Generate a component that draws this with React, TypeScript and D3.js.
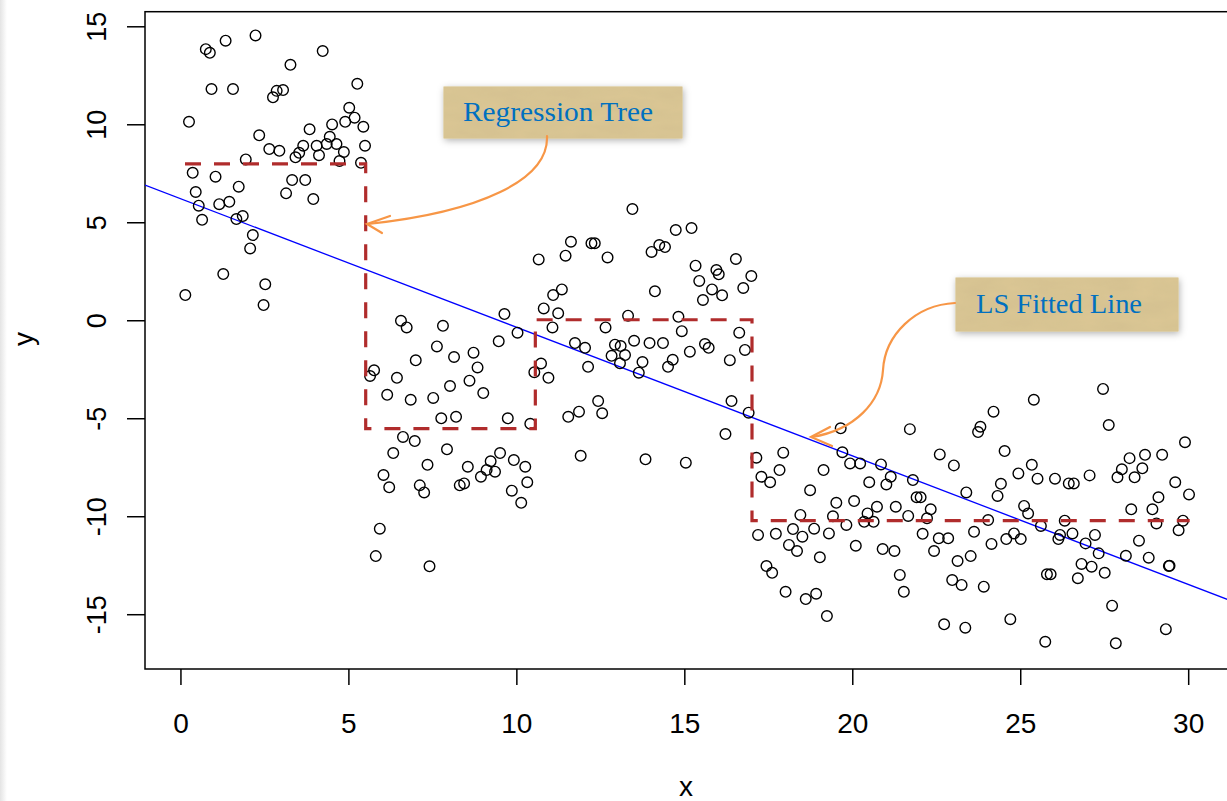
import React from 'react';
import * as d3 from 'd3';

// axis ticks
const xTicks = [0, 5, 10, 15, 20, 25, 30];
const yTicks = [-15, -10, -5, 0, 5, 10, 15];

// observations [x, y], grouped by the leaf of the tree they fall in
const leaf1: [number, number][] = [
  [0.24, 10.15], [0.13, 1.31], [0.35, 7.55], [0.44, 6.57], [0.53, 5.87], [0.63, 5.15], [0.74, 13.86],
  [0.86, 13.67], [0.91, 11.82], [1.03, 7.35], [1.14, 5.95], [1.26, 2.38], [1.33, 14.29], [1.44, 6.07],
  [1.55, 11.82], [1.72, 6.84], [1.65, 5.19], [1.84, 5.34], [1.93, 8.23], [2.14, 4.37], [2.06, 3.69],
  [2.22, 14.56], [2.33, 9.46], [2.51, 1.86], [2.46, 0.8], [2.63, 8.76], [2.93, 8.67], [2.74, 11.4],
  [2.85, 11.73], [3.04, 11.77], [3.13, 6.5], [3.26, 13.06], [3.31, 7.18], [3.41, 8.34], [3.52, 8.57],
  [3.64, 8.93], [3.7, 7.18], [3.83, 9.77], [3.94, 6.21], [4.04, 8.93], [4.11, 8.45], [4.22, 13.76],
  [4.34, 9.02], [4.43, 9.39], [4.5, 10.02], [4.63, 9.02], [4.85, 8.61], [4.72, 8.15], [4.89, 10.15],
  [5.01, 10.87], [5.17, 10.36], [5.25, 12.09], [5.43, 9.9], [5.48, 8.93], [5.36, 8.06],
];
const leaf2: [number, number][] = [
  [6.55, 0.0], [6.72, -0.34], [7.8, -0.26], [9.63, 0.34], [10.02, -0.61], [9.46, -1.05], [7.62, -1.31],
  [8.13, -1.85], [8.71, -1.63], [8.83, -2.38], [6.99, -2.02], [5.75, -2.53], [5.63, -2.82], [6.43, -2.91],
  [8.01, -3.33], [8.59, -3.06], [9.0, -3.69], [6.14, -3.78], [6.84, -4.03], [7.51, -3.94], [7.75, -4.98],
  [8.19, -4.9], [9.73, -4.98], [10.4, -5.26], [6.61, -5.93], [6.96, -6.14], [6.32, -6.75], [7.92, -6.56],
  [7.34, -7.35], [8.54, -7.45], [9.5, -6.75], [9.22, -7.17], [9.1, -7.62], [9.35, -7.7], [8.93, -7.96],
  [9.91, -7.11], [10.25, -7.45], [10.31, -8.24], [9.85, -8.67], [10.13, -9.29], [6.03, -7.87], [6.2, -8.5],
  [7.11, -8.4], [7.24, -8.76], [8.3, -8.4], [8.43, -8.3], [5.92, -10.61], [5.8, -12.01], [7.4, -12.53],
  [10.52, -2.63],
];
const leaf3: [number, number][] = [
  [13.44, 5.7], [14.73, 4.63], [15.2, 4.73], [11.61, 4.03], [12.22, 3.95], [12.32, 3.95], [11.45, 3.32],
  [10.65, 3.13], [12.7, 3.23], [14.01, 3.51], [14.24, 3.86], [14.41, 3.76], [15.32, 2.81], [16.52, 3.15],
  [15.94, 2.59], [16.01, 2.37], [16.98, 2.28], [15.43, 2.03], [15.81, 1.6], [16.11, 1.3], [16.74, 1.67],
  [15.54, 1.06], [14.11, 1.5], [11.34, 1.6], [11.08, 1.31], [10.8, 0.63], [11.23, 0.38], [13.31, 0.26],
  [14.81, 0.2], [11.06, -0.34], [12.64, -0.34], [14.91, -0.53], [16.62, -0.61], [11.73, -1.14],
  [12.03, -1.38], [12.92, -1.22], [13.09, -1.29], [13.49, -1.02], [13.95, -1.14], [14.35, -1.14],
  [15.6, -1.19], [15.71, -1.38], [15.15, -1.58], [16.79, -1.49], [12.82, -1.79], [13.22, -1.75],
  [13.07, -2.17], [13.74, -2.11], [14.64, -1.99], [14.5, -2.35], [16.34, -2.01], [10.72, -2.18],
  [10.94, -2.91], [12.12, -2.35], [13.63, -2.65], [12.42, -4.1], [11.85, -4.64], [11.53, -4.9],
  [12.54, -4.72], [16.39, -4.1], [16.9, -4.69], [16.21, -5.78], [11.9, -6.89], [13.83, -7.07], [15.03, -7.24],
];
const leaf4: [number, number][] = [
  [17.13, -6.99], [17.93, -6.73], [17.82, -7.62], [19.64, -5.49], [21.7, -5.53], [19.69, -6.71],
  [19.92, -7.28], [20.22, -7.28], [20.84, -7.33], [17.28, -7.96], [17.54, -8.24], [19.13, -7.62],
  [20.49, -8.24], [21.0, -8.35], [21.13, -7.96], [21.79, -8.13], [22.59, -6.82], [23.01, -7.38],
  [18.73, -8.65], [19.51, -9.29], [20.04, -9.2], [23.38, -8.76], [21.9, -9.01], [22.02, -9.01],
  [20.72, -9.49], [20.44, -9.83], [21.28, -9.49], [22.32, -9.62], [18.44, -9.91], [19.41, -9.98],
  [21.65, -9.96], [22.21, -10.08], [20.34, -10.26], [20.62, -10.26], [19.81, -10.42], [18.85, -10.61],
  [18.22, -10.63], [18.5, -11.02], [17.71, -10.87], [17.18, -10.93], [19.29, -10.85], [22.08, -10.87],
  [22.56, -11.1], [22.84, -11.1], [23.61, -10.77], [18.1, -11.44], [18.34, -11.75], [20.09, -11.48],
  [20.89, -11.65], [21.24, -11.75], [22.42, -11.75], [19.02, -12.07], [17.43, -12.52], [17.6, -12.86],
  [21.4, -12.97], [23.12, -12.26], [23.51, -12.01], [22.96, -13.23], [23.24, -13.48], [18.0, -13.83],
  [18.6, -14.2], [18.91, -13.93], [21.52, -13.83], [19.23, -15.07], [22.72, -15.49], [23.35, -15.66],
  [23.9, -13.57], [27.45, -3.48], [25.39, -4.03], [24.19, -4.64], [23.8, -5.41], [23.73, -5.68],
  [27.62, -5.32], [29.89, -6.2], [24.52, -6.65], [28.24, -7.01], [28.7, -6.84], [29.21, -6.84],
  [25.33, -7.35], [24.93, -7.79], [25.5, -8.06], [26.02, -8.06], [26.43, -8.3], [26.58, -8.3],
  [27.05, -7.89], [28.01, -7.58], [27.88, -7.99], [28.39, -7.99], [28.62, -7.53], [24.41, -8.32],
  [24.31, -8.94], [29.6, -8.24], [30.01, -8.86], [29.1, -9.01], [28.29, -9.62], [28.92, -9.62],
  [25.1, -9.45], [25.22, -9.83], [24.03, -10.17], [26.31, -10.2], [25.6, -10.47], [29.04, -10.34],
  [29.83, -10.2], [29.7, -10.69], [24.8, -10.85], [24.57, -11.14], [25.0, -11.14], [24.13, -11.39],
  [26.17, -10.93], [26.12, -11.14], [26.54, -10.85], [27.21, -10.93], [26.93, -11.36], [28.52, -11.22],
  [27.32, -11.87], [28.13, -11.99], [28.81, -12.09], [26.81, -12.41], [27.11, -12.55], [27.5, -12.86],
  [29.41, -12.52], [29.43, -12.5], [25.78, -12.94], [25.89, -12.94], [26.7, -13.14], [27.72, -14.54],
  [24.69, -15.23], [25.73, -16.38], [27.83, -16.46], [29.32, -15.74],
];

// regression tree: split points and leaf means
const treeStart = 0.12;
const treeEnd = 30.03;
const treeSplits = [5.5, 10.55, 17.0];
const leafMeans = [8.0, -5.5, 0.05, -10.2];

// least squares line
const lsIntercept = 6.22;
const lsSlope = -0.656;

const W = 1227;
const H = 801;

export default function App() {
  const x = d3.scaleLinear().domain([-1.07, 31.2]).range([145, 1229]);
  const y = d3.scaleLinear().domain([-17.77, 15.77]).range([669, 11.7]);

  const points = [...leaf1, ...leaf2, ...leaf3, ...leaf4];

  const stepPts: [number, number][] = [[treeStart, leafMeans[0]]];
  treeSplits.forEach((s, i) => stepPts.push([s, leafMeans[i + 1]]));
  stepPts.push([treeEnd, leafMeans[leafMeans.length - 1]]);
  const tree = d3.line<[number, number]>()
    .x(d => x(d[0]))
    .y(d => y(d[1]))
    .curve(d3.curveStepAfter)(stepPts);

  const [x0, x1] = x.domain();
  const axisFont = '"Liberation Sans", Arial, sans-serif';

  return (
    <svg width={W} height={H} style={{ position: 'absolute', left: 0, top: 0, background: '#fff' }}>
      <defs>
        <clipPath id="plotArea">
          <rect x={145} y={11.7} width={1084} height={657.3} />
        </clipPath>
        <linearGradient id="edge" x1="0" x2="1" y1="0" y2="0">
          <stop offset="0" stopColor="#e4e4e4" />
          <stop offset="1" stopColor="#fff" />
        </linearGradient>
        <filter id="shadow" x="-10%" y="-20%" width="125%" height="150%">
          <feDropShadow dx="1" dy="2" stdDeviation="3.5" floodColor="#000" floodOpacity="0.3" />
        </filter>
        <filter id="paper">
          <feTurbulence type="fractalNoise" baseFrequency="0.03 0.08" numOctaves="3" seed="4" result="noise" />
          <feColorMatrix in="noise" type="matrix"
            values="0 0 0 0 0.55  0 0 0 0 0.45  0 0 0 0 0.25  0 0 0 0.35 0" result="tint" />
          <feComposite in="tint" in2="SourceGraphic" operator="in" result="tex" />
          <feMerge>
            <feMergeNode in="SourceGraphic" />
            <feMergeNode in="tex" />
          </feMerge>
        </filter>
      </defs>

      <rect x={0} y={0} width={7} height={H} fill="url(#edge)" />

      {/* plot frame */}
      <rect x={145} y={11.7} width={1084} height={657.3} fill="none" stroke="#000" strokeWidth={1.5} />

      {/* x axis */}
      {xTicks.map(t => (
        <g key={'xt' + t}>
          <line x1={x(t)} x2={x(t)} y1={669} y2={685} stroke="#000" strokeWidth={1.5} />
          <text x={x(t)} y={733} textAnchor="middle" fontFamily={axisFont} fontSize={28} fill="#000">{t}</text>
        </g>
      ))}
      <text x={686} y={796} textAnchor="middle" fontFamily={axisFont} fontSize={28} fill="#000">x</text>

      {/* y axis */}
      {yTicks.map(t => (
        <g key={'yt' + t}>
          <line x1={127} x2={145} y1={y(t)} y2={y(t)} stroke="#000" strokeWidth={1.5} />
          <text transform={`translate(106,${y(t)}) rotate(-90)`} textAnchor="middle"
            fontFamily={axisFont} fontSize={27} fill="#000">{t}</text>
        </g>
      ))}
      <text transform="translate(33,339) rotate(-90)" textAnchor="middle" fontFamily={axisFont} fontSize={28} fill="#000">y</text>

      <g clipPath="url(#plotArea)">
        {/* LS fitted line */}
        <line x1={x(x0)} y1={y(lsIntercept + lsSlope * x0)} x2={x(x1)} y2={y(lsIntercept + lsSlope * x1)}
          stroke="#0000ff" strokeWidth={1.3} />

        {/* points */}
        {points.map((d, i) => (
          <circle key={i} cx={x(d[0])} cy={y(d[1])} r={5.3} fill="none" stroke="#000" strokeWidth={1.4} />
        ))}

        {/* regression tree */}
        <path d={tree ?? ''} fill="none" stroke="#b02c2c" strokeWidth={3.2} strokeDasharray="16 13" />
      </g>

      {/* annotations */}
      <g fontFamily='"Liberation Serif", Cambria, serif' fill="#0070c0">
        <rect x={444} y={87} width={238} height={51} fill="#dcc794" stroke="#d4bd80" strokeWidth={1}
          filter="url(#shadow)" />
        <rect x={444} y={87} width={238} height={51} fill="#dcc794" filter="url(#paper)" />
        <text x={558} y={121} textAnchor="middle" fontSize={27} textLength={190} lengthAdjust="spacingAndGlyphs">Regression Tree</text>

        <rect x={956} y={278} width={222} height={53} fill="#dcc794" stroke="#d4bd80" strokeWidth={1}
          filter="url(#shadow)" />
        <rect x={956} y={278} width={222} height={53} fill="#dcc794" filter="url(#paper)" />
        <text x={1059} y={313} textAnchor="middle" fontSize={27} textLength={166} lengthAdjust="spacingAndGlyphs">LS Fitted Line</text>
      </g>

      <g fill="none" stroke="#f79646" strokeWidth={2.2} strokeLinecap="round">
        <path d="M547,136 C549,180 480,212 368,224" />
        <path d="M390,216 L367,224 L382,233" />
        <path d="M955,303 C915,305 885,335 883,370 C881,402 855,430 812,437" />
        <path d="M830,427 L811,437 L832,446" />
      </g>
    </svg>
  );
}
